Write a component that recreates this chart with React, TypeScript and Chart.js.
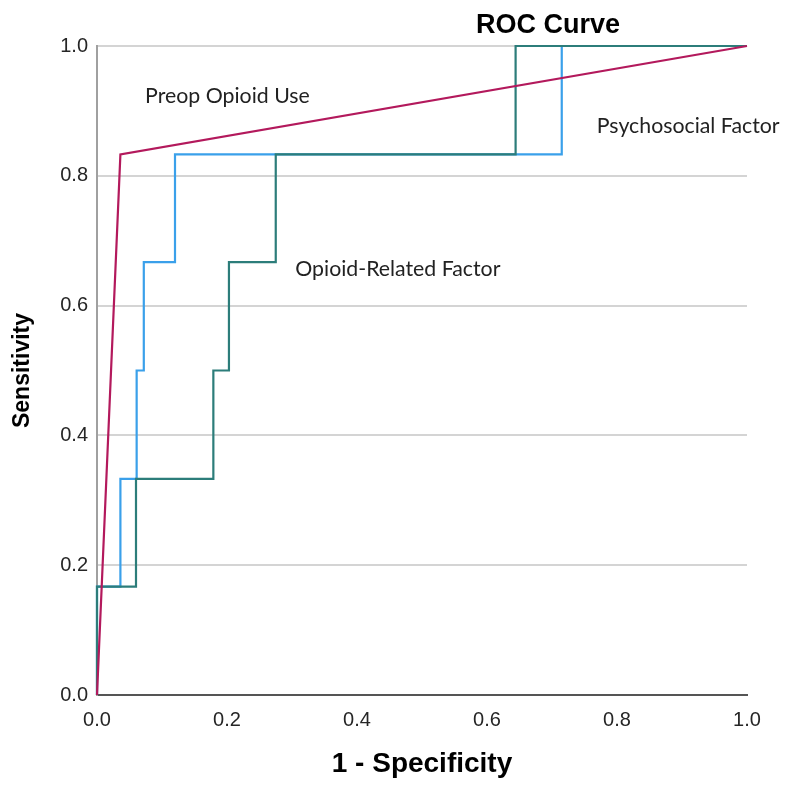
import React, { useEffect, useRef } from 'react';
import { Chart, registerables } from 'chart.js';

Chart.register(...registerables);

// ROC curve vertices (1 - Specificity, Sensitivity)
const preopFpr = [0, 0.036, 1];
const preopTpr = [0, 0.833, 1];

const opioidFpr = [0, 0, 0.06, 0.06, 0.179, 0.179, 0.203, 0.203, 0.275, 0.275, 0.644, 0.644, 1];
const opioidTpr = [0, 0.167, 0.167, 0.333, 0.333, 0.5, 0.5, 0.667, 0.667, 0.833, 0.833, 1, 1];

const psychoFpr = [0, 0, 0.036, 0.036, 0.061, 0.061, 0.072, 0.072, 0.12, 0.12, 0.715, 0.715, 1];
const psychoTpr = [0, 0.167, 0.167, 0.333, 0.333, 0.5, 0.5, 0.667, 0.667, 0.833, 0.833, 1, 1];

const seriesNames = ['Preop Opioid Use', 'Opioid-Related Factor', 'Psychosocial Factor'];
const axisTicks = [0, 0.2, 0.4, 0.6, 0.8, 1.0];

const chartTitle = 'ROC Curve';
const xTitle = '1 - Specificity';
const yTitle = 'Sensitivity';

const toPoints = (xs: number[], ys: number[]) => xs.map((x, i) => ({ x, y: ys[i] }));

const labelPlacement = [
  { text: seriesNames[0], x: 0.074, y: 0.912 },
  { text: seriesNames[2], x: 0.769, y: 0.866 },
  { text: seriesNames[1], x: 0.305, y: 0.646 },
];

const overlayPlugin = {
  id: 'overlay',
  afterDatasetsDraw(chart: any) {
    const { ctx, scales, chartArea } = chart;
    const xs = scales.x;
    const ys = scales.y;
    ctx.save();
    ctx.fillStyle = '#222222';
    ctx.textAlign = 'left';
    ctx.textBaseline = 'alphabetic';
    ctx.font = '21.3px Lato';
    labelPlacement.forEach((l) => {
      ctx.fillText(l.text, xs.getPixelForValue(l.x), ys.getPixelForValue(l.y));
    });
    ctx.fillStyle = '#000000';
    ctx.textAlign = 'center';
    ctx.font = 'bold 27px "Liberation Sans", Arial, sans-serif';
    ctx.fillText(chartTitle, xs.getPixelForValue(0.694), chartArea.top - 13);
    ctx.restore();
  },
};

export default function App() {
  const canvasRef = useRef<HTMLCanvasElement | null>(null);

  useEffect(() => {
    if (!canvasRef.current) return;
    const tickFont = { family: '"Liberation Sans", Arial, sans-serif', size: 20 };
    const chart = new Chart(canvasRef.current, {
      type: 'scatter',
      data: {
        datasets: [
          {
            label: seriesNames[0],
            data: toPoints(preopFpr, preopTpr),
            borderColor: '#b3195c',
            borderWidth: 2.2,
            showLine: true,
            pointRadius: 0,
            clip: false,
          },
          {
            label: seriesNames[1],
            data: toPoints(opioidFpr, opioidTpr),
            borderColor: '#2c7d7a',
            borderWidth: 2.2,
            showLine: true,
            pointRadius: 0,
            clip: false,
          },
          {
            label: seriesNames[2],
            data: toPoints(psychoFpr, psychoTpr),
            borderColor: '#3aa0ea',
            borderWidth: 2.2,
            showLine: true,
            pointRadius: 0,
            clip: false,
          },
        ],
      },
      options: {
        responsive: false,
        animation: false,
        layout: { padding: { top: 46, right: 38, left: 0, bottom: 0 } },
        plugins: {
          legend: { display: false },
          tooltip: { enabled: false },
          title: { display: false },
        },
        scales: {
          x: {
            type: 'linear',
            min: 0,
            max: 1,
            afterBuildTicks: (s: any) => {
              s.ticks = axisTicks.map((v) => ({ value: v }));
            },
            afterFit: (s: any) => {
              s.height = 92;
            },
            ticks: {
              callback: (v: any) => Number(v).toFixed(1),
              font: tickFont,
              color: '#262626',
              padding: 13,
              maxRotation: 0,
            },
            grid: { display: false, drawTicks: false },
            border: { display: true, color: '#555555', width: 2 },
            title: {
              display: true,
              text: xTitle,
              color: '#000000',
              font: { family: '"Liberation Sans", Arial, sans-serif', size: 28, weight: 'bold' },
              padding: { top: 0, bottom: 6 },
            },
          },
          y: {
            type: 'linear',
            min: 0,
            max: 1,
            afterBuildTicks: (s: any) => {
              s.ticks = axisTicks.map((v) => ({ value: v }));
            },
            afterFit: (s: any) => {
              s.width = 97;
            },
            ticks: {
              callback: (v: any) => Number(v).toFixed(1),
              font: tickFont,
              color: '#262626',
              padding: 9,
            },
            grid: {
              drawTicks: false,
              lineWidth: 2,
              color: (c: any) => (c.tick && c.tick.value === 0 ? 'rgba(0,0,0,0)' : '#d4d4d4'),
            },
            border: { display: true, color: '#a0a0a0', width: 2 },
            title: {
              display: true,
              text: yTitle,
              color: '#000000',
              font: { family: '"Liberation Sans", Arial, sans-serif', size: 23, weight: 'bold' },
              padding: { top: 9, bottom: 0 },
            },
          },
        },
      } as any,
      plugins: [overlayPlugin],
    });
    return () => chart.destroy();
  }, []);

  return (
    <div style={{ position: 'absolute', left: 0, top: 0, width: 785, height: 787, background: '#ffffff' }}>
      <canvas ref={canvasRef} width={785} height={787} style={{ display: 'block' }} />
    </div>
  );
}
